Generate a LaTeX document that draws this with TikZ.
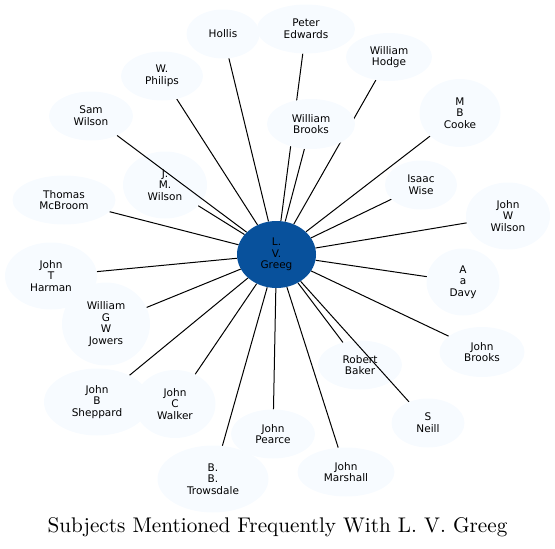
\documentclass[tikz,border=0pt]{standalone}
\usepackage{fontspec}
\usepackage{xcolor}
\usepackage{tikz}
\usetikzlibrary{positioning, shapes.geometric}
\newfontfamily\dejavu{DejaVu Sans}
\newfontfamily\captionfont{lmroman10-regular}[Extension=.otf]
\definecolor{paleblue}{HTML}{F7FBFF}
\definecolor{deepblue}{HTML}{08519C}
\pgfdeclarelayer{under}
\pgfdeclarelayer{edges}
\pgfsetlayers{under,edges,main}

\begin{document}
\begin{tikzpicture}[
    x=1pt, y=-1pt,
    subject/.style={ellipse, fill=paleblue, inner sep=0pt, align=center, font=\dejavu\fontsize{10.5}{11.7}\selectfont},
    focus/.style={subject, fill=deepblue},
    line/.style={-, line width=1pt}
]
    \useasboundingbox (0,0) rectangle (555,549);

    % Centre
    \node[focus, minimum width=79, minimum height=67] (greeg) at (276.5,254.5) {L.\\V.\\Greeg};

    % Subjects lying under crossing lines
    \begin{pgfonlayer}{under}
    \node[subject, minimum width=84, minimum height=67] (jmwilson) at (165,185) {J.\\M.\\Wilson};
    \node[subject, minimum width=84, minimum height=49] (baker) at (360,365) {Robert\\Baker};
    \end{pgfonlayer}

    % Subjects
    \node[subject, minimum width=73, minimum height=49] (hollis) at (223,34) {Hollis};
    \node[subject, minimum width=98, minimum height=49] (edwards) at (306,29) {Peter\\Edwards};
    \node[subject, minimum width=88, minimum height=50] (wbrooks) at (311,124) {William\\Brooks};
    \node[subject, minimum width=86, minimum height=48] (hodge) at (389,57) {William\\Hodge};
    \node[subject, minimum width=82, minimum height=49] (philips) at (162,76) {W.\\Philips};
    \node[subject, minimum width=84, minimum height=49] (swilson) at (91,116) {Sam\\Wilson};
    \node[subject, minimum width=103, minimum height=49] (mcbroom) at (64,200) {Thomas\\McBroom};
    \node[subject, minimum width=92, minimum height=67] (harman) at (51,276) {John\\T\\Harman};
    \node[subject, minimum width=88, minimum height=83] (jowers) at (106,324) {William\\G\\W\\Jowers};
    \node[subject, minimum width=106, minimum height=67] (sheppard) at (97,402) {John\\B\\Sheppard};
    \node[subject, minimum width=81, minimum height=68] (walker) at (175,404) {John\\C\\Walker};
    \node[subject, minimum width=84, minimum height=49] (pearce) at (273,434) {John\\Pearce};
    \node[subject, minimum width=111, minimum height=67] (trowsdale) at (213,479) {B.\\B.\\Trowsdale};
    \node[subject, minimum width=97, minimum height=49] (marshall) at (346,472) {John\\Marshall};
    \node[subject, minimum width=73, minimum height=49] (neill) at (428,423) {S\\Neill};
    \node[subject, minimum width=85, minimum height=50] (jbrooks) at (482,352) {John\\Brooks};
    \node[subject, minimum width=73, minimum height=67] (davy) at (463,282) {A\\a\\Davy};
    \node[subject, minimum width=84, minimum height=67] (jwwilson) at (508,216) {John\\W\\Wilson};
    \node[subject, minimum width=72, minimum height=49] (wise) at (421,185) {Isaac\\Wise};
    \node[subject, minimum width=81, minimum height=68] (cooke) at (460,113) {M\\B\\Cooke};

    % Connections
    \begin{pgfonlayer}{edges}
    \foreach \other in {hollis, edwards, wbrooks, hodge, philips, swilson, jmwilson, mcbroom, harman, jowers, sheppard, walker, pearce, trowsdale, marshall, baker, neill, jbrooks, davy, jwwilson, wise, cooke}
        \draw[line] (greeg) -- (\other);
    \end{pgfonlayer}

    \node[font=\captionfont\fontsize{21.2}{24}\selectfont] (caption) at (277.5,527) {Subjects Mentioned Frequently With L. V. Greeg};

\end{tikzpicture}
\end{document}
